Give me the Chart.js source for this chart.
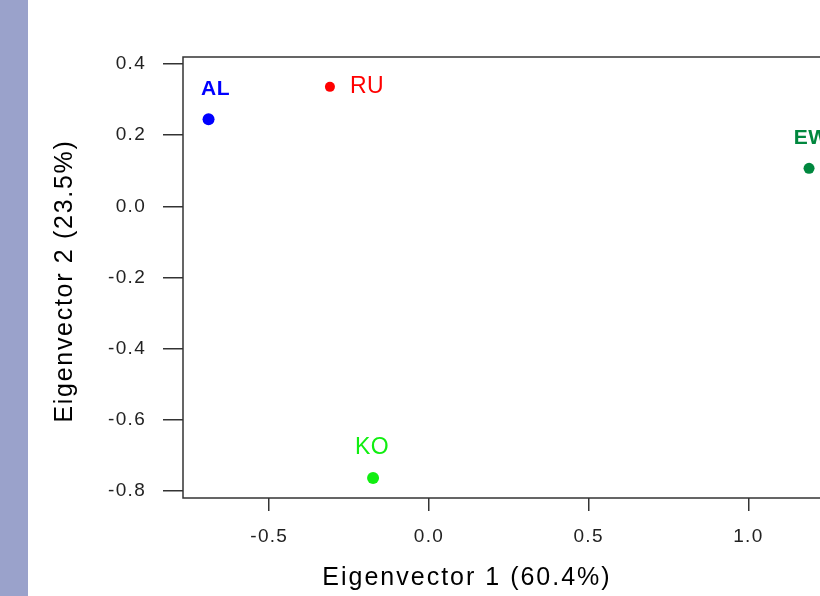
<!DOCTYPE html>
<html>
<head>
<meta charset="utf-8">
<script src="https://cdn.jsdelivr.net/npm/chart.js@4.4.0/dist/chart.umd.min.js"></script>
<style>
    html, body { margin: 0; padding: 0; background: #fff; overflow: hidden; }
    #strip { position: absolute; left: 0; top: 0; width: 28px; height: 596px; background: #9aa2cb; }
    #wrap { position: absolute; left: 0; top: 0; width: 860px; height: 596px; }
</style>
</head>
<body>
<div id="strip"></div>
<div id="wrap"><canvas id="chart1" width="860" height="596"></canvas></div>
<script>
// data
var groups = ["AL", "RU", "EW", "KO"];
var ev1 = [-0.69, -0.31, 1.19, -0.175];
var ev2 = [0.245, 0.336, 0.107, -0.764];
var xTitle = "Eigenvector 1 (60.4%)";
var yTitle = "Eigenvector 2 (23.5%)";

// look of the marks and labels
var colors = ["#0000ff", "#ff0000", "#00873e", "#11ee11"];
var radii = [6, 5, 5.5, 6];
var labelFonts = ["bold 21px 'Liberation Sans'", "23px 'Liberation Sans'", "bold 21px 'Liberation Sans'", "23px 'Liberation Sans'"];
var labelSide = ["above", "right", "above", "above"];
var labelDx = [7, 20, 2, -1];

var points = [];
for (var i = 0; i < groups.length; i++) {
    points.push({ x: ev1[i], y: ev2[i] });
}

var ink = "#333333";

// box round the plot, point labels and axis titles
var extras = {
    id: "extras",
    beforeDraw: function(chart) {
        chart.ctx.letterSpacing = "1.3px";
    },
    beforeDatasetsDraw: function(chart) {
        var ctx = chart.ctx, a = chart.chartArea;
        ctx.save();
        ctx.strokeStyle = ink;
        ctx.lineWidth = 1.5;
        ctx.strokeRect(a.left, a.top, a.right - a.left, a.bottom - a.top);
        ctx.restore();
    },
    afterDatasetsDraw: function(chart) {
        var ctx = chart.ctx;
        var meta = chart.getDatasetMeta(0);
        ctx.save();
        ctx.letterSpacing = "0.5px";
        meta.data.forEach(function(el, i) {
            ctx.font = labelFonts[i];
            ctx.fillStyle = colors[i];
            ctx.textBaseline = "middle";
            if (labelSide[i] == "right") {
                ctx.textAlign = "left";
                ctx.fillText(groups[i], el.x + labelDx[i], el.y);
            } else {
                ctx.textAlign = "center";
                ctx.fillText(groups[i], el.x + labelDx[i], el.y - 30);
            }
        });
        ctx.restore();
    },
    afterDraw: function(chart) {
        var ctx = chart.ctx;
        ctx.save();
        ctx.fillStyle = "#000";
        ctx.font = "25px 'Liberation Sans'";
        ctx.textAlign = "center";
        ctx.textBaseline = "alphabetic";
        ctx.letterSpacing = "2px";
        ctx.fillText(xTitle, 467, 585);
        ctx.translate(72, 281);
        ctx.rotate(-Math.PI / 2);
        ctx.letterSpacing = "1.7px";
        ctx.fillText(yTitle, 0, 0);
        ctx.restore();
        ctx.letterSpacing = "0px";
    }
};

var chart1El = document.getElementById("chart1");
new Chart(chart1El, {
    type: "scatter",
    data: {
        datasets: [{
            label: "",
            data: points,
            pointRadius: radii,
            pointHoverRadius: radii,
            pointBackgroundColor: colors,
            pointBorderColor: colors,
            pointBorderWidth: 0
        }]
    },
    options: {
        responsive: false,
        animation: false,
        devicePixelRatio: 1,
        layout: {
            padding: { top: 57, right: 27, bottom: 0, left: 0 }
        },
        plugins: {
            legend: { display: false },
            tooltip: { enabled: false }
        },
        scales: {
            x: {
                type: "linear",
                min: -0.77,
                max: 1.265,
                border: { display: false },
                grid: { drawOnChartArea: false, drawTicks: true, tickLength: 13, color: ink, lineWidth: 1.5 },
                ticks: {
                    stepSize: 0.5,
                    includeBounds: false,
                    padding: 14,
                    color: "#222",
                    font: { family: "'Liberation Sans'", size: 19 },
                    maxRotation: 0,
                    callback: function(v) { return v.toFixed(1); }
                },
                afterFit: function(scale) { scale.height = 98; }
            },
            y: {
                type: "linear",
                min: -0.82,
                max: 0.42,
                border: { display: false },
                grid: { drawOnChartArea: false, drawTicks: true, tickLength: 20, color: ink, lineWidth: 1.5 },
                ticks: {
                    stepSize: 0.2,
                    includeBounds: false,
                    padding: 17,
                    color: "#222",
                    font: { family: "'Liberation Sans'", size: 19 },
                    callback: function(v) { return v.toFixed(1); }
                },
                afterFit: function(scale) { scale.width = 183; }
            }
        }
    },
    plugins: [extras]
});
</script>
</body>
</html>
